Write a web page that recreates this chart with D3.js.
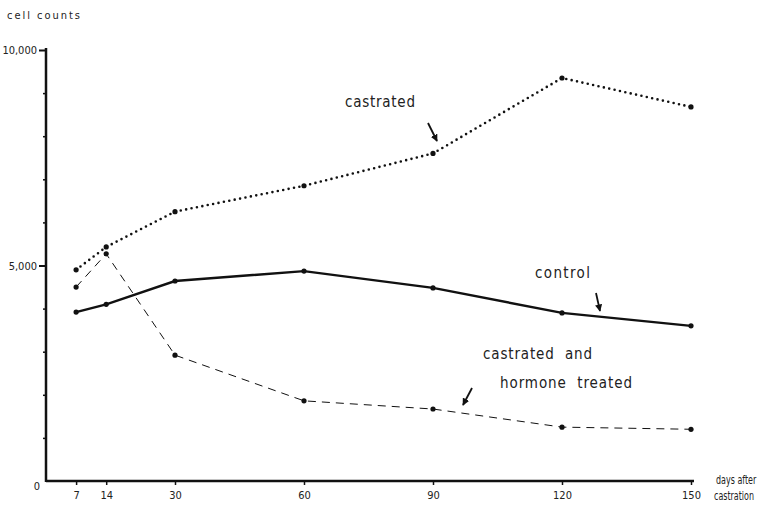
<!DOCTYPE html>
<html>
<head>
<meta charset="utf-8">
<script src="https://cdn.jsdelivr.net/npm/d3@7"></script>
<style>
  body { margin: 0; background: #fff; }
  text { font-family: "Liberation Sans Narrow", "DejaVu Sans Condensed", "DejaVu Sans", sans-serif; font-stretch: condensed; fill: #222; }
</style>
</head>
<body>
<div id="chart"></div>
<script>
var days = [7, 14, 30, 60, 90, 120, 150];
var castrated = [4900, 5430, 6250, 6850, 7600, 9350, 8680];
var control = [3920, 4100, 4640, 4870, 4480, 3900, 3600];
var hormone = [4500, 5270, 2920, 1860, 1670, 1250, 1200];
var xTicks = [7, 14, 30, 60, 90, 120, 150];
var yTicks = [0, 5000, 10000];

var width = 767, height = 508;
var margin = { top: 50, right: 76, bottom: 27, left: 46 };

var svg = d3.select('#chart')
  .append('svg')
  .attr('width', width)
  .attr('height', height);

// scales
var xScale = d3.scaleLinear()
  .domain([0, 150])
  .range([margin.left, width - margin.right]);

var yScale = d3.scaleLinear()
  .domain([0, 10000])
  .range([height - margin.bottom, margin.top]);

// axes
var axisX = d3.axisBottom(xScale)
  .tickValues(xTicks)
  .tickSize(4)
  .tickPadding(6);

var axisY = d3.axisLeft(yScale)
  .tickValues(yTicks.slice(1))
  .tickSize(7)
  .tickPadding(2)
  .tickFormat(d3.format(','));

var minorY = d3.axisLeft(yScale)
  .tickValues(d3.range(1000, 10000, 1000).filter(function (d) { return d !== 5000; }))
  .tickSize(3)
  .tickFormat('');

var gx = svg.append('g')
  .attr('class', 'axisX')
  .attr('transform', 'translate(0,' + yScale(0) + ')')
  .call(axisX);
gx.select('.domain').remove();
gx.append('line')
  .attr('x1', xScale(0)).attr('x2', xScale(150) + 3)
  .attr('stroke', '#111').attr('stroke-width', 2.5);
gx.selectAll('.tick line').attr('stroke', '#111').attr('stroke-width', 1.5);
gx.selectAll('.tick text')
  .style('font-size', '11px')
  .attr('fill', '#222');

var gy = svg.append('g')
  .attr('class', 'axisY')
  .attr('transform', 'translate(' + xScale(0) + ',0)')
  .call(axisY);
gy.select('.domain').remove();
gy.append('line')
  .attr('y1', yScale(0) + 1).attr('y2', yScale(10000) - 2)
  .attr('stroke', '#111').attr('stroke-width', 2.5);
gy.selectAll('.tick line').attr('stroke', '#111').attr('stroke-width', 2);
gy.selectAll('.tick text')
  .style('font-size', '11px')
  .attr('fill', '#222');

svg.append('g')
  .attr('transform', 'translate(' + xScale(0) + ',0)')
  .call(minorY)
  .call(function (g) { g.select('.domain').remove(); })
  .selectAll('.tick line')
  .attr('stroke', '#111')
  .attr('stroke-width', 1.5);

// zero label
svg.append('text')
  .attr('x', 37).attr('y', yScale(0) + 9)
  .style('font-size', '11px')
  .attr('text-anchor', 'middle')
  .text('0');

// axis titles
svg.append('text')
  .attr('x', 7).attr('y', 19)
  .style('font-size', '11px')
  .attr('fill', '#555')
  .attr('textLength', 73)
  .attr('lengthAdjust', 'spacing')
  .text('cell counts');

// x title, squeezed like the condensed print
svg.append('text')
  .attr('transform', 'translate(716,484) scale(0.74,1)')
  .style('font-size', '12px')
  .text('days after');
svg.append('text')
  .attr('transform', 'translate(714,500) scale(0.74,1)')
  .style('font-size', '12px')
  .text('castration');

// lines
var line = d3.line()
  .x(function (d, i) { return xScale(days[i]); })
  .y(function (d) { return yScale(d); });

var series = [
  { name: 'castrated', values: castrated, width: 2.6, dash: '0 5.5', cap: 'round' },
  { name: 'control', values: control, width: 2.4, dash: null, cap: 'butt' },
  { name: 'hormone', values: hormone, width: 1, dash: '8 6', cap: 'butt' }
];

svg.append('g')
  .attr('class', 'lines')
  .selectAll('path')
  .data(series)
  .enter()
  .append('path')
  .attr('d', function (d) { return line(d.values); })
  .attr('fill', 'none')
  .attr('stroke', '#111')
  .attr('stroke-width', function (d) { return d.width; })
  .attr('stroke-dasharray', function (d) { return d.dash; })
  .attr('stroke-linecap', function (d) { return d.cap; });

// points
svg.append('g')
  .attr('class', 'points')
  .selectAll('g')
  .data(series)
  .enter()
  .append('g')
  .selectAll('circle')
  .data(function (d) { return d.values; })
  .enter()
  .append('circle')
  .attr('cx', function (d, i) { return xScale(days[i]); })
  .attr('cy', function (d) { return yScale(d); })
  .attr('r', 2.6)
  .attr('fill', '#111');

// labels
var labels = [
  { text: 'castrated', x: 345, y: 107, w: 70 },
  { text: 'control', x: 535, y: 278, w: 55 },
  { text: 'castrated  and', x: 483, y: 359, w: 109 },
  { text: 'hormone  treated', x: 500, y: 388, w: 132 }
];
svg.append('g')
  .selectAll('text')
  .data(labels)
  .enter()
  .append('text')
  .attr('x', function (d) { return d.x; })
  .attr('y', function (d) { return d.y; })
  .style('font-size', '15px')
  .attr('textLength', function (d) { return d.w; })
  .attr('lengthAdjust', 'spacing')
  .attr('xml:space', 'preserve')
  .style('white-space', 'pre')
  .text(function (d) { return d.text; });

// arrows
var defs = svg.append('defs');
defs.append('marker')
  .attr('id', 'arrow')
  .attr('viewBox', '0 0 10 10')
  .attr('refX', 9).attr('refY', 5)
  .attr('markerWidth', 4).attr('markerHeight', 4)
  .attr('orient', 'auto')
  .append('path')
  .attr('d', 'M0,0L10,5L0,10z')
  .attr('fill', '#111');

var arrows = [
  { x1: 428, y1: 123, x2: 437, y2: 141 },
  { x1: 596, y1: 293, x2: 600, y2: 311 },
  { x1: 472, y1: 388, x2: 463, y2: 405 }
];
svg.append('g')
  .selectAll('line')
  .data(arrows)
  .enter()
  .append('line')
  .attr('x1', function (d) { return d.x1; })
  .attr('y1', function (d) { return d.y1; })
  .attr('x2', function (d) { return d.x2; })
  .attr('y2', function (d) { return d.y2; })
  .attr('stroke', '#111')
  .attr('stroke-width', 1.8)
  .attr('marker-end', 'url(#arrow)');
</script>
</body>
</html>
